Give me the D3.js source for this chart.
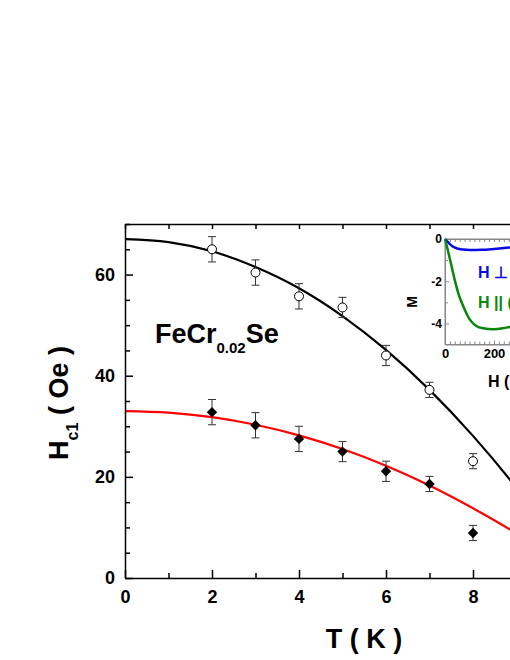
<!DOCTYPE html>
<html><head><meta charset="utf-8">
<script src="https://cdn.jsdelivr.net/npm/d3@7"></script>
<style>
html,body{margin:0;padding:0;background:#fff;}
svg{display:block;font-family:Arial,"Liberation Sans",sans-serif;}
</style></head>
<body><svg id="c" width="510" height="660"></svg>
<script>
// ---- data ----
const T = [2,3,4,5,6,7,8];
const hc1Open = [65.0,60.4,55.7,53.5,44.0,37.2,23.1];
const errOpen = [2.5,2.5,2.5,2.0,2.0,1.5,1.5];
const hc1Filled = [32.8,30.2,27.5,25.0,21.1,18.6,8.9];
const errFilled = [2.5,2.5,2.5,2.0,2.0,1.5,1.5];
const fitT = [0,1,2,3,4,5,6,7,8,9,10];
const fitOpen = [67,66.4,64.6,61.5,57.3,51.8,45.1,37.2,28.1,17.8,6.2];
const fitFilled = [33,32.7,31.8,30.3,28.2,25.5,22.2,18.3,13.8,8.8,3.1];
const xTicks = [0,2,4,6,8];
const yTicks = [0,20,40,60];
// inset
const blueH = [0,10,20,30,50,75,100,150,200,250,300,400];
const blueM = [0,-0.12,-0.24,-0.34,-0.45,-0.5,-0.52,-0.51,-0.47,-0.42,-0.37,-0.3];
const greenH = [0,10,20,30,40,55,75,100,125,150,200,250,300,400];
const greenM = [0,-0.45,-0.95,-1.45,-1.95,-2.6,-3.2,-3.8,-4.1,-4.22,-4.28,-4.2,-4.1,-3.8];
const insetXTicks = [0,200];
const insetYTicks = [0,-2,-4];

const svg = d3.select("#c");
const x = d3.scaleLinear().domain([0,10]).range([125,560]);
const y = d3.scaleLinear().domain([0,70]).range([578,224]);

// curves
const line = d3.line().curve(d3.curveMonotoneX);
svg.append("path").attr("d", line(fitT.map((t,i)=>[x(t),y(fitOpen[i])])))
  .attr("fill","none").attr("stroke","#000").attr("stroke-width",2.2);
svg.append("path").attr("d", line(fitT.map((t,i)=>[x(t),y(fitFilled[i])])))
  .attr("fill","none").attr("stroke","#ff0000").attr("stroke-width",2.2);

// error bars
function errBars(vals, errs){
  const g = svg.append("g").attr("stroke","#333").attr("stroke-width",1);
  T.forEach((t,i)=>{
    const cx=x(t), y1=y(vals[i]+errs[i]), y2=y(vals[i]-errs[i]);
    g.append("line").attr("x1",cx).attr("x2",cx).attr("y1",y1).attr("y2",y2);
    g.append("line").attr("x1",cx-4).attr("x2",cx+4).attr("y1",y1).attr("y2",y1);
    g.append("line").attr("x1",cx-4).attr("x2",cx+4).attr("y1",y2).attr("y2",y2);
  });
}
errBars(hc1Open, errOpen);
errBars(hc1Filled, errFilled);
svg.append("g").selectAll("circle").data(T).join("circle")
  .attr("cx",d=>x(d)).attr("cy",(d,i)=>y(hc1Open[i])).attr("r",4.5)
  .attr("fill","#fff").attr("stroke","#000").attr("stroke-width",1);
const dia = d3.symbol().type(d3.symbolSquare).size(54);
svg.append("g").selectAll("path").data(T).join("path")
  .attr("d",dia).attr("transform",(d,i)=>`translate(${x(d)},${y(hc1Filled[i])}) rotate(45)`)
  .attr("fill","#000");

// axes
function styleAxis(g, fs){
  g.selectAll("path,line").attr("stroke","#000").attr("stroke-width",1.5);
  g.selectAll("text").attr("font-size",fs).attr("font-weight","bold").attr("fill","#000")
    .attr("font-family",'Arial,"Liberation Sans",sans-serif');
}
const gx = svg.append("g").attr("transform","translate(0,578)")
  .call(d3.axisBottom(x).tickValues(xTicks).tickSize(-8).tickSizeOuter(0).tickPadding(12).tickFormat(d3.format("d")));
styleAxis(gx,18);
const gx2 = svg.append("g").attr("transform","translate(0,578)")
  .call(d3.axisBottom(x).tickValues([1,3,5,7,9]).tickSize(-5).tickSizeOuter(0).tickFormat(""));
styleAxis(gx2,18); gx2.select(".domain").remove();
const gt = svg.append("g").attr("transform","translate(0,224)")
  .call(d3.axisTop(x).tickValues(d3.range(0,11)).tickSize(-5).tickSizeOuter(0).tickFormat(""));
styleAxis(gt,18);
const gy = svg.append("g").attr("transform","translate(125,0)")
  .call(d3.axisLeft(y).tickValues(yTicks).tickSize(-8).tickSizeOuter(0).tickPadding(10).tickFormat(d3.format("d")));
styleAxis(gy,18);
const gy2 = svg.append("g").attr("transform","translate(125,0)")
  .call(d3.axisLeft(y).tickValues(d3.range(5,71,5).filter(v=>v%20!==0)).tickSize(-5).tickSizeOuter(0).tickFormat(""));
styleAxis(gy2,18); gy2.select(".domain").remove();

// axis titles
const yl = svg.append("text").attr("transform","translate(68,403) rotate(-90)")
  .attr("text-anchor","middle").attr("font-weight","bold").attr("font-size",27);
yl.append("tspan").text("H");
yl.append("tspan").attr("font-size",16).attr("dy",10).text("c1");
yl.append("tspan").attr("dy",-10).text(" ( Oe )");
svg.append("text").attr("x",364).attr("y",648).attr("text-anchor","middle")
  .attr("font-weight","bold").attr("font-size",27).text("T ( K )");

// compound label
const tl = svg.append("text").attr("x",155).attr("y",343).attr("font-weight","bold").attr("font-size",27);
tl.append("tspan").text("FeCr");
tl.append("tspan").attr("font-size",15).attr("dy",10).text("0.02");
tl.append("tspan").attr("dy",-10).text("Se");

// ---- inset ----
const ix = d3.scaleLinear().domain([0,600]).range([445,445+147]);
const iy = d3.scaleLinear().domain([-5,0]).range([344.5,239]);
const ins = svg.append("g");
ins.append("rect").attr("x",445).attr("y",239).attr("width",147).attr("height",105.5)
  .attr("fill","#fff").attr("stroke","#888").attr("stroke-width",1);
function styleInset(g, fs){
  g.selectAll("path,line").attr("stroke","#888").attr("stroke-width",1);
  g.selectAll("text").attr("font-size",fs).attr("font-weight","bold").attr("fill","#000")
    .attr("font-family",'Arial,"Liberation Sans",sans-serif');
}
const ibx = ins.append("g").attr("transform","translate(0,344.5)")
  .call(d3.axisBottom(ix).tickValues(insetXTicks).tickSize(-4).tickSizeOuter(0).tickPadding(4).tickFormat(d=>String(d)));
styleInset(ibx,13);
const ibx2 = ins.append("g").attr("transform","translate(0,344.5)")
  .call(d3.axisBottom(ix).tickValues(d3.range(20,600,20).filter(v=>v%200!==0)).tickSize(-3).tickSizeOuter(0).tickFormat(""));
styleInset(ibx2,13); ibx2.select(".domain").remove();
const itx = ins.append("g").attr("transform","translate(0,239)")
  .call(d3.axisTop(ix).tickValues(d3.range(0,601,20)).tickSize(-3).tickSizeOuter(0).tickFormat(""));
styleInset(itx,13);
const iyax = ins.append("g").attr("transform","translate(445,0)")
  .call(d3.axisLeft(iy).tickValues(insetYTicks).tickSize(-4).tickSizeOuter(0).tickPadding(3).tickFormat(d=>String(d)));
styleInset(iyax,12);
const iyax2 = ins.append("g").attr("transform","translate(445,0)")
  .call(d3.axisLeft(iy).tickValues([-1,-3]).tickSize(-3).tickSizeOuter(0).tickFormat(""));
styleInset(iyax2,12); iyax2.select(".domain").remove();

ins.append("path").attr("d", line(blueH.map((h,i)=>[ix(h),iy(blueM[i])])))
  .attr("fill","none").attr("stroke","#0a0ae6").attr("stroke-width",2.5);
ins.append("path").attr("d", line(greenH.map((h,i)=>[ix(h),iy(greenM[i])])))
  .attr("fill","none").attr("stroke","#0a870a").attr("stroke-width",2.5);
ins.append("text").attr("x",478).attr("y",278).attr("font-weight","bold").attr("font-size",16)
  .attr("fill","#0a0ae6").text("H \u22A5 (");
ins.append("text").attr("x",478).attr("y",308).attr("font-weight","bold").attr("font-size",16)
  .attr("fill","#0a870a").text("H || (");
ins.append("text").attr("transform","translate(417,302) rotate(-90)").attr("text-anchor","middle")
  .attr("font-weight","bold").attr("font-size",14).text("M");
ins.append("text").attr("x",488).attr("y",387).attr("font-weight","bold").attr("font-size",16).text("H (");
</script></body></html>
